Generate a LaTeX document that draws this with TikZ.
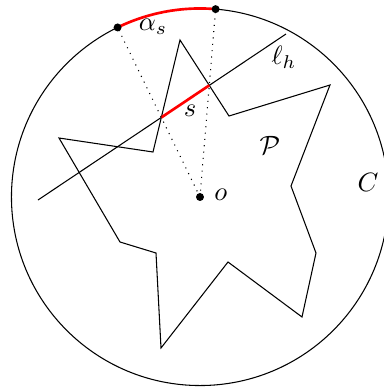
\documentclass[tikz,border=0pt]{standalone}
\usepackage{amsmath}
\usepackage{amssymb}
\usetikzlibrary{calc}

\begin{document}
\begin{tikzpicture}[x=0.01326cm, y=0.01326cm,
        dot/.style={circle, fill=black, inner sep=0pt, minimum size=3pt},
        seg/.style={red, line width=1pt}]
    \useasboundingbox (0,0) rectangle (384,390);
    % circle C around o
    \node[dot] (o) at (200,193) {};
    \node[anchor=west] (olab) at (205,195) {$o$};
    \draw (o.center) circle (2.5cm);
    \node (clab) at (368,208) {$C$};

    % polygon P
    \coordinate (v0) at (180,350);
    \coordinate (v1) at (229,274);
    \coordinate (v11) at (153,238);
    \draw (v0) -- (v1) -- (330,305) -- (291,204) -- (316,137) -- (302,73)
        -- (228,128) -- (161,42) -- (156,137) -- (120,148) -- (59,252)
        -- (v11) -- cycle;
    \node (plab) at (270,245) {$\mathcal{P}$};

    % line l_h and segment s
    \coordinate (h1) at (38,190);
    \coordinate (h2) at (286,356);
    \draw (h1) -- (h2);
    \node (hlab) at (284,333) {$\ell_h$};
    \coordinate (s1) at (intersection of h1--h2 and v11--v0);
    \coordinate (s2) at (intersection of h1--h2 and v0--v1);
    \draw[seg] (s1) -- (s2);
    \node (slab) at (190,279) {$s$};

    % projection of s onto C
    \coordinate (a) at ($(o.center)!2.5cm!(s1)$);
    \coordinate (b) at ($(o.center)!2.5cm!(s2)$);
    \draw[dotted] (o.center) -- (a);
    \draw[dotted] (o.center) -- (b);
    \draw[seg] let \p1=($(a)-(o.center)$), \p2=($(b)-(o.center)$),
        \n1={atan2(\y1,\x1)}, \n2={atan2(\y2,\x2)} in
        (a) arc[start angle=\n1, end angle=\n2, radius=2.5cm];
    \node[dot] (pa) at (a) {};
    \node[dot] (pb) at (b) {};
    \node (alab) at (153,363) {$\alpha_s$};
\end{tikzpicture}
\end{document}
